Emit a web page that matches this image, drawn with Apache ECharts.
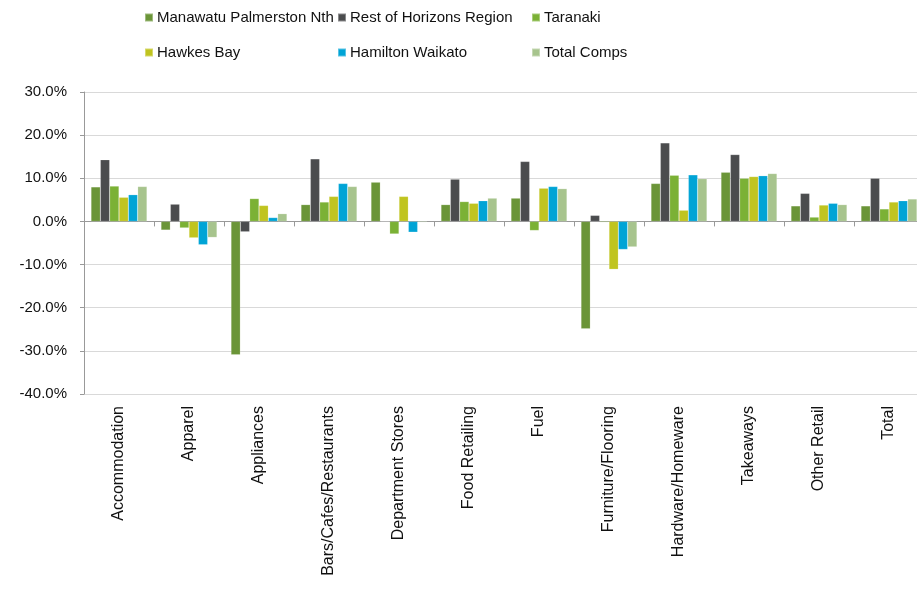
<!DOCTYPE html>
<html>
<head>
<meta charset="utf-8">
<script src="https://cdn.jsdelivr.net/npm/echarts@6/dist/echarts.min.js"></script>
<style>
  html, body { margin: 0; padding: 0; background: #fff; overflow: hidden; width: 917px; height: 590px; }
  /* the plot area runs past the right edge of the picture, so the canvas is wider than the window */
  #chart { width: 931px; height: 590px; }
</style>
</head>
<body>
<div id="chart"></div>
<script>
// categories along the x axis
const categories = ['Accommodation', 'Apparel', 'Appliances', 'Bars/Cafes/Restaurants',
  'Department Stores', 'Food Retailing', 'Fuel', 'Furniture/Flooring',
  'Hardware/Homeware', 'Takeaways', 'Other Retail', 'Total'];

// values (%)
const manawatu = [8.0, -2.0, -30.9, 3.9, 9.1, 3.9, 5.4, -24.9, 8.8, 11.4, 3.6, 3.6];
const restHorizons = [14.3, 4.0, -2.4, 14.5, 0.0, 9.8, 13.9, 1.4, 18.2, 15.5, 6.5, 10.0];
const taranaki = [8.2, -1.5, 5.3, 4.5, -2.9, 4.6, -2.1, -0.2, 10.7, 10.0, 1.0, 2.9];
const hawkesBay = [5.6, -3.8, 3.7, 5.8, 5.8, 4.2, 7.7, -11.1, 2.6, 10.4, 3.8, 4.5];
const hamilton = [6.2, -5.4, 0.9, 8.8, -2.5, 4.8, 8.1, -6.5, 10.8, 10.6, 4.2, 4.8];
const totalComps = [8.1, -3.7, 1.8, 8.1, -0.2, 5.4, 7.6, -5.9, 9.9, 11.1, 3.9, 5.2];

const seriesNames = ['Manawatu Palmerston Nth', 'Rest of Horizons Region', 'Taranaki',
  'Hawkes Bay', 'Hamilton Waikato', 'Total Comps'];
const seriesData = [manawatu, restHorizons, taranaki, hawkesBay, hamilton, totalComps];
const colors = ['#6b9538', '#4b4c4e', '#7bb135', '#c0c41f', '#00a4d6', '#a7c48d'];

// legend laid out in 3 columns x 2 rows
const legendPos = [[144, 10], [337, 10], [531, 10], [144, 45], [337, 45], [531, 45]];

const chart = echarts.init(document.getElementById('chart'));

const font = 'Liberation Sans, Arial, Helvetica, sans-serif';

chart.setOption({
  animation: false,
  color: colors,
  legend: seriesNames.map((name, i) => ({
    data: [name],
    left: legendPos[i][0],
    top: legendPos[i][1],
    padding: 0,
    icon: 'rect',
    itemWidth: 8,
    itemHeight: 8,
    itemGap: 0,
    textStyle: { fontFamily: font, fontSize: 15, color: '#111', padding: [0, 0, 0, -1] }
  })),
  grid: { left: 84, right: 7, top: 92, bottom: 196, containLabel: false },
  xAxis: [
    {
      type: 'category',
      data: categories,
      position: 'bottom',
      axisLine: { show: false, onZero: false },
      axisTick: { show: false },
      axisLabel: {
        rotate: 90,
        interval: 0,
        margin: 12,
        fontFamily: font,
        fontSize: 16,
        color: '#111'
      }
    },
    {
      type: 'category',
      data: categories,
      position: 'bottom',
      axisLine: { show: true, onZero: true, lineStyle: { color: '#999', width: 1 } },
      axisTick: { show: true, interval: 0, length: 5, lineStyle: { color: '#999' } },
      axisLabel: { show: false, interval: 0 }
    }
  ],
  yAxis: {
    type: 'value',
    min: -40,
    max: 30,
    interval: 10,
    axisLine: { show: true, lineStyle: { color: '#999' } },
    axisTick: { show: true, length: 4, lineStyle: { color: '#999' } },
    splitLine: { show: true, lineStyle: { color: '#d9d9d9', width: 1 } },
    axisLabel: {
      margin: 17,
      fontFamily: font,
      fontSize: 15,
      color: '#111',
      formatter: v => v.toFixed(1) + '%'
    }
  },
  series: seriesNames.map((name, i) => ({
    name: name,
    type: 'bar',
    xAxisIndex: 0,
    data: seriesData[i],
    barGap: '0%',
    barCategoryGap: '20%',
    itemStyle: { borderColor: 'rgba(255,255,255,0.35)', borderWidth: 0.5 }
  }))
});
</script>
</body>
</html>
